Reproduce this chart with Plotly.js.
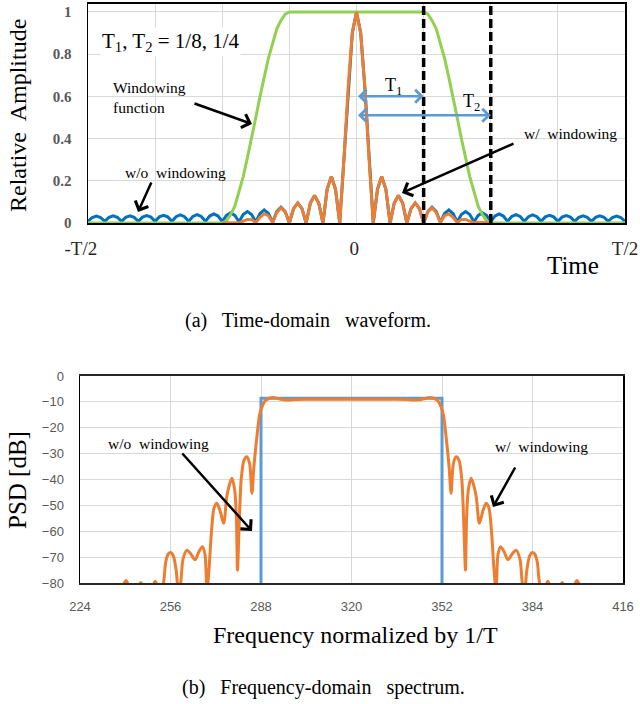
<!DOCTYPE html>
<html>
<head>
<meta charset="utf-8">
<script src="https://cdn.plot.ly/plotly-3.0.1.min.js"></script>
<style>html,body{margin:0;padding:0;background:#fff;}#chart{width:640px;height:704px;}</style>
</head>
<body>
<div id="chart"></div>
<script>
// ---------- (a) time domain: sample index in units of T/128 ----------
var sampleTime = [-64,-63,-62,-61,-60,-59,-58,-57,-56,-55,-54,-53,-52,-51,-50,-49,-48,-47,-46,-45,-44,-43,-42,-41,-40,-39,-38,-37,-36,-35,-34,-33,
 -32,-31,-30,-29,-28,-27,-26,-25,-24,-23,-22,-21,-20,-19,-18,-17,-16,-15,-14,-13,-12,-11,-10,-9,-8,-7,-6,-5,-4,-3,-2,-1,
 0,1,2,3,4,5,6,7,8,9,10,11,12,13,14,15,16,17,18,19,20,21,22,23,24,25,26,27,28,29,30,31,
 32,33,34,35,36,37,38,39,40,41,42,43,44,45,46,47,48,49,50,51,52,53,54,55,56,57,58,59,60,61,62,63,64];

var withoutWindowing = [
 0.008,0.026,0.033,0.026, 0.008,0.027,0.034,0.027, 0.008,0.027,0.034,0.027, 0.008,0.028,0.035,0.028,
 0.008,0.029,0.036,0.029, 0.008,0.030,0.038,0.030, 0.008,0.031,0.040,0.031, 0.008,0.033,0.043,0.033,
 0.007,0.036,0.048,0.036, 0.006,0.040,0.054,0.040, 0.005,0.045,0.062,0.045, 0.003,0.054,0.075,0.054,
 0,0.068,0.095,0.068, 0,0.095,0.13,0.095, 0,0.16,0.22,0.16, 0,0.30,0.64,0.90,
 1,
 0.90,0.64,0.30,0, 0.16,0.22,0.16,0, 0.095,0.13,0.095,0, 0.068,0.095,0.068,0,
 0.054,0.075,0.054,0.003, 0.045,0.062,0.045,0.005, 0.040,0.054,0.040,0.006, 0.036,0.048,0.036,0.007,
 0.033,0.043,0.033,0.008, 0.031,0.040,0.031,0.008, 0.030,0.038,0.030,0.008, 0.029,0.036,0.029,0.008,
 0.028,0.035,0.028,0.008, 0.027,0.034,0.027,0.008, 0.027,0.034,0.027,0.008, 0.026,0.033,0.026,0.008];

var windowTime = [-64,-32,-31,-30,-29,-28,-27,-26,-25,-24,-23,-22,-21,-20,-19,-18,-17,-16,
 16,17,18,19,20,21,22,23,24,25,26,27,28,29,30,31,32,64];
var windowValue = [0,0,0.01,0.04,0.08,0.15,0.22,0.31,0.40,0.50,0.60,0.69,0.78,0.85,0.92,0.96,0.99,1,
 1,0.99,0.96,0.92,0.85,0.78,0.69,0.60,0.50,0.40,0.31,0.22,0.15,0.08,0.04,0.01,0,0];

var withWindowingTime = sampleTime.slice(32, 97);
var withWindowing = [
 0,0.0004,0.002,0.003, 0.001,0.009,0.017,0.016, 0.002,0.027,0.043,0.035, 0.003,0.050,0.072,0.053,
 0,0.068,0.095,0.068, 0,0.095,0.13,0.095, 0,0.16,0.22,0.16, 0,0.30,0.64,0.90,
 1,
 0.90,0.64,0.30,0, 0.16,0.22,0.16,0, 0.095,0.13,0.095,0, 0.068,0.095,0.068,0,
 0.053,0.072,0.050,0.003, 0.035,0.043,0.027,0.002, 0.016,0.017,0.009,0.001, 0.003,0.002,0.0004,0];

var timeGridTicks = [-64,-48,-32,-16,0,16,32,48,64];
var timeLabelTicks = [-64,0,64];
var timeTickLabels = ['-T/2\u00a0\u00a0\u00a0','0\u00a0','T/2'];
var ampTicks = [0,0.2,0.4,0.6,0.8,1];
var ampTickLabels = ['0','0.2','0.4','0.6','0.8','1'];
var markerT1 = 16, markerT2 = 32;

// ---------- (b) frequency domain ----------
var rectFreq = [288,288,352,352];
var rectPSD = [-85,-8.6,-8.6,-85];

var specFreq = [238.5,240.3,242,244,245.5,247,249,250.6,252,253.4,254.3,255.2,256.1,257,258,258.8,259.6,260.4,261.8,263,264.7,266,267.3,268.2,268.9,
 269.6,270.5,271.4,272.4,273.5,274.8,276,277.7,278.7,279.3,279.7,280.2,281,282,283,284,284.8,285.5,286.6,287.5,288.4,289.5,291,292.3,294,296,298,300,304,310,316,320,
 324,330,336,340,342,344,346,347.7,349,350.5,351.6,352.5,353.4,354.5,355.2,356,357,358,359,359.8,360.3,360.7,361.3,362.3,364,365.2,366.5,367.6,368.6,369.5,370.4,
 371.1,371.8,372.7,374,375.3,377,378.2,379.6,380.4,381.2,382,383,383.9,384.8,385.7,386.6,388,389.4,391,393,394.5,396,398,399.7,401.5];
var specPSD = [-83,-79,-83,-83,-79.8,-83,-83,-79.3,-83,-80.5,-72,-68.8,-68.2,-69.5,-75,-83,-80,-71,-67.3,-68.5,-71,-68,-66,-69,-83,
 -75,-60,-51,-49.2,-52,-56.9,-46,-39.5,-44,-55,-75,-60,-40,-32.5,-31.2,-34,-45.3,-35,-23,-15,-11.8,-9.5,-8.6,-8.3,-8.7,-9.2,-9.3,-9.1,-9,-9,-9,-9,
 -9,-9,-9,-9.1,-9.3,-9.2,-8.7,-8.3,-8.6,-9.5,-11.8,-15,-23,-35,-45.3,-34,-31.2,-32.5,-40,-60,-75,-55,-44,-39.5,-46,-56.9,-52,-49.2,-51,-60,-75,
 -83,-69,-66,-68,-71,-68.5,-67.3,-71,-80,-83,-75,-69.5,-68.2,-68.8,-72,-80.5,-83,-79.3,-83,-83,-79.8,-83,-83,-79,-83];

var freqTicks = [224,256,288,320,352,384,416];
var psdTicks = [0,-10,-20,-30,-40,-50,-60,-70,-80];

// ---------- helpers: pixel -> paper ----------
function P(x){return x/640;}
function Q(y){return 1-y/704;}

var serif = 'Liberation Serif, Times New Roman, serif';
var sans = 'Liberation Sans, Arial, sans-serif';

var traces = [
 {x: sampleTime, y: withoutWindowing, xaxis:'x', yaxis:'y', mode:'lines', line:{color:'#0070C0', width:3}, name:'w/o windowing'},
 {x: windowTime, y: windowValue, xaxis:'x', yaxis:'y', mode:'lines', line:{color:'#92D050', width:3}, name:'Windowing function'},
 {x: withWindowingTime, y: withWindowing, xaxis:'x', yaxis:'y', mode:'lines', line:{color:'#ED7D31', width:3}, name:'w/ windowing'},
 {x: rectFreq, y: rectPSD, xaxis:'x2', yaxis:'y2', mode:'lines', line:{color:'#5B9BD5', width:3}, name:'w/o windowing'},
 {x: specFreq, y: specPSD, xaxis:'x2', yaxis:'y2', mode:'lines', line:{color:'#ED7D31', width:3, shape:'spline', smoothing:0.8}, name:'w/ windowing'}
];

function arrow(hx, hy, ax, ay){
  return {x:P(hx), y:Q(hy), xref:'paper', yref:'paper', ax:ax, ay:ay, text:'', showarrow:true,
          arrowhead:4, arrowsize:1.1, arrowwidth:2.5, arrowcolor:'#000'};
}
function label(t, x, y, size, extra){
  var a = {text:t, x:P(x), y:Q(y), xref:'paper', yref:'paper', showarrow:false,
           xanchor:'center', yanchor:'middle',
           font:{family:serif, size:size, color:'#000'}};
  for (var k in (extra||{})) a[k] = extra[k];
  return a;
}

var annotations = [
 label('T<sub>1</sub>, T<sub>2</sub> = 1/8, 1/4', 170, 42, 21, {bgcolor:'#fff'}),
 label('Windowing<br>function', 111, 98, 15.5, {xanchor:'left', align:'left'}),
 arrow(252, 124, -59, -21),
 label('w/o\u00a0 windowing', 175, 172, 15.5),
 arrow(138, 212, 14, -31),
 label('w/\u00a0 windowing', 570, 133, 15.5),
 arrow(402, 193, 113, -50),
 label('T<sub>1</sub>', 393, 86, 18),
 label('T<sub>2</sub>', 471, 103, 18),
 {x:markerT1, y:0.6, ax:0, ay:0.6, xref:'x', yref:'y', axref:'x', ayref:'y', text:'', showarrow:true,
  arrowside:'end+start', arrowhead:4, startarrowhead:4, arrowsize:1, startarrowsize:1, arrowwidth:2.5, arrowcolor:'#5B9BD5'},
 {x:markerT2, y:0.51, ax:0, ay:0.51, xref:'x', yref:'y', axref:'x', ayref:'y', text:'', showarrow:true,
  arrowside:'end+start', arrowhead:4, startarrowhead:4, arrowsize:1, startarrowsize:1, arrowwidth:2.5, arrowcolor:'#5B9BD5'},
 label('Relative\u00a0 Amplitude', 18, 116, 24, {textangle:-90}),
 label('Time', 573, 265, 25),
 label('(a)\u00a0\u00a0 Time-domain\u00a0\u00a0 waveform.', 308, 320, 20),
 label('PSD [dB]', 18, 480, 25, {textangle:-90}),
 label('Frequency normalized by 1/T', 355, 635, 24),
 label('(b)\u00a0\u00a0 Frequency-domain\u00a0\u00a0 spectrum.', 323, 687, 20),
 label('w/o\u00a0 windowing', 158, 443, 15.5),
 arrow(252, 531, -71, -79),
 label('w/\u00a0 windowing', 541, 446, 15.5),
 arrow(493, 507, 23, -41)
];

var shapes = [
 {type:'line', xref:'x', yref:'y domain', x0:markerT1, x1:markerT1, y0:0, y1:1, line:{color:'#000', width:3.5, dash:'9px,4px'}},
 {type:'line', xref:'x', yref:'y domain', x0:markerT2, x1:markerT2, y0:0, y1:1, line:{color:'#000', width:3.5, dash:'9px,4px'}}
];

var layout = {
 width:640, height:704, margin:{l:0,r:0,t:0,b:0}, showlegend:false,
 paper_bgcolor:'#fff', plot_bgcolor:'#fff',
 xaxis:{domain:[88/640, 625/640], range:[-64,64], anchor:'y', tickmode:'array', tickvals:timeLabelTicks, ticktext:timeTickLabels,
   showgrid:true, gridcolor:'#D9D9D9', gridwidth:1, zeroline:false, showline:true, mirror:true, linecolor:'#000', linewidth:2,
   minor:{tickmode:'array', tickvals:timeGridTicks, showgrid:true, gridcolor:'#D9D9D9', gridwidth:1, ticks:''},
   ticks:'', ticklabelstandoff:7, tickfont:{family:serif, size:19, color:'#262626'}},
 yaxis:{domain:[1-223/704, 1-3.5/704], range:[0,1.04], anchor:'x', tickmode:'array', tickvals:ampTicks, ticktext:ampTickLabels,
   showgrid:true, gridcolor:'#D9D9D9', gridwidth:1, zeroline:false, showline:true, mirror:true, linecolor:'#000', linewidth:1.5,
   ticks:'', ticklabelstandoff:12, tickfont:{family:serif, size:15, color:'#595959', weight:'bold'}},
 xaxis2:{domain:[80/640, 623/640], range:[224,416], anchor:'y2', tickmode:'array', tickvals:freqTicks,
   showgrid:true, gridcolor:'#D9D9D9', gridwidth:1, zeroline:false, showline:true, mirror:true, linecolor:'#262626', linewidth:2,
   ticks:'', ticklabelstandoff:10, tickfont:{family:sans, size:13, color:'#595959'}},
 yaxis2:{domain:[1-583/704, 1-376/704], range:[-80,0], anchor:'x2', tickmode:'array', tickvals:psdTicks,
   showgrid:true, gridcolor:'#D9D9D9', gridwidth:1, zeroline:false, showline:true, mirror:true, linecolor:'#000', linewidth:1.5,
   ticks:'', ticklabelstandoff:12, tickfont:{family:sans, size:13, color:'#595959'}},
 annotations: annotations,
 shapes: shapes
};

Plotly.newPlot('chart', traces, layout, {staticPlot:true, displayModeBar:false});
</script>
</body>
</html>
